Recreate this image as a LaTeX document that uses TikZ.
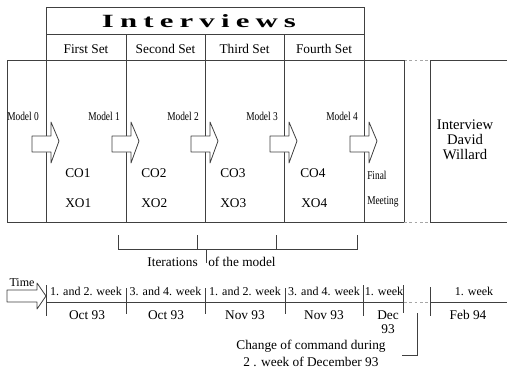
\documentclass[tikz,border=0pt]{standalone}
\usepackage{fontspec}
\setmainfont{Liberation Serif}
\begin{document}
\begin{tikzpicture}[x=0.75pt,y=-0.75pt,
  ln/.style={draw=black!75,line width=0.6pt},
  dotl/.style={draw=black!35,line width=0.6pt,dash pattern=on 2pt off 2pt},
  txt/.style={inner sep=0pt,font=\fontsize{10}{12}\selectfont},
  wk/.style={inner sep=0pt,font=\fontsize{9}{11}\selectfont},
  mdl/.style={inner sep=0pt,font=\fontsize{9}{10}\selectfont},
  barrow/.style={draw=black!75,fill=white,line width=0.6pt,line join=round}]
\useasboundingbox (0,0) rectangle (507,372);

% Interviews frame
\draw[ln] (46,222) -- (46,7) -- (364,7) -- (364,222);
\draw[ln] (46,34) -- (364,34);
\foreach \x in {126,205,284} \draw[ln] (\x,34) -- (\x,222);
% main row
\draw[ln] (7,60) -- (404,60);
\draw[dotl] (404,60) -- (430,60);
\draw[ln] (430,60) -- (507,60);
\draw[ln] (7,222) -- (404,222);
\draw[dotl] (404,222) -- (430,222);
\draw[ln] (430,222) -- (507,222);
\draw[ln] (7,60) -- (7,222);
\draw[ln] (404,60) -- (404,222);
\draw[ln] (430,60) -- (430,222);

% block arrows
\foreach \b in {46,126,205,284,364}
  \draw[barrow] (\b-14,136) -- (\b+5,136) -- (\b+5,122) -- (\b+13,141)
     -- (\b+5,163) -- (\b+5,152) -- (\b-14,152) -- cycle;

% title and set labels
\node[inner sep=0pt,font=\fontsize{14}{14}\bfseries\addfontfeature{LetterSpace=20}] (title) at (199,21) {\scalebox{1.65}[1]{Interviews}};
\node[txt] (s1) at (86,49) {First Set};
\node[txt] (s2) at (165.5,49) {Second Set};
\node[txt] (s3) at (244.5,49) {Third Set};
\node[txt] (s4) at (324,49) {Fourth Set};

% model labels
\node[mdl,anchor=east] (m0) at (39,116) {\scalebox{0.78}[1]{Model 0}};
\node[mdl,anchor=east] (m1) at (120,116) {\scalebox{0.78}[1]{Model 1}};
\node[mdl,anchor=east] (m2) at (199,116) {\scalebox{0.78}[1]{Model 2}};
\node[mdl,anchor=east] (m3) at (278,116) {\scalebox{0.78}[1]{Model 3}};
\node[mdl,anchor=east] (m4) at (358,116) {\scalebox{0.78}[1]{Model 4}};

% CO / XO
\node[txt,anchor=west] (co1) at (65,173) {CO1};
\node[txt,anchor=west] (xo1) at (65,203) {XO1};
\node[txt,anchor=west] (co2) at (141,173) {CO2};
\node[txt,anchor=west] (xo2) at (141,203) {XO2};
\node[txt,anchor=west] (co3) at (220,173) {CO3};
\node[txt,anchor=west] (xo3) at (220,203) {XO3};
\node[txt,anchor=west] (co4) at (300,173) {CO4};
\node[txt,anchor=west] (xo4) at (301,203) {XO4};

\node[mdl,anchor=west] (fin) at (367,175) {\scalebox{0.78}[1]{Final}};
\node[mdl,anchor=west] (meet) at (367,202) {\scalebox{0.78}[1]{Meeting}};

\node[inner sep=0pt,align=center,font=\fontsize{11}{11.3}\selectfont] (dw) at (465,140) {Interview\\David\\Willard};

% iterations bracket
\draw[ln] (118,235) -- (118,249) -- (357,249) -- (357,235);
\draw[ln] (197,235) -- (197,249);
\draw[ln] (276,235) -- (276,249);
\draw[ln] (206,249) -- (206,263);
\node[txt,anchor=east] (it1) at (198,262) {Iterations};
\node[txt,anchor=west] (it2) at (208,262) {of the model};

% timeline
\draw[barrow] (7,290) -- (37,290) -- (37,283) -- (46,296) -- (37,309) -- (37,302) -- (7,302) -- cycle;
\node[wk] (time) at (22,283) {Time};
\draw[ln] (46,302) -- (404,302);
\draw[dotl] (404,302) -- (430,302);
\draw[ln] (430,302) -- (507,302);
\draw[ln] (46,285) -- (46,316);
\draw[ln] (126,288) -- (126,314);
\draw[ln] (205,288) -- (205,314);
\draw[ln] (285,288) -- (285,314);
\draw[ln] (363,285) -- (363,316);
\draw[ln] (403,285) -- (403,313);
\draw[ln] (430,287) -- (430,316);

\node[wk] (w1) at (86,291) {1. and 2. week};
\node[wk] (w2) at (165.5,291) {3. and 4. week};
\node[wk] (w3) at (245,291) {1. and 2. week};
\node[wk] (w4) at (324,291) {3. and 4. week};
\node[wk] (w5) at (384,291) {1. week};
\node[wk] (w6) at (474,291) {1. week};

\node[txt] (d1) at (87,315) {Oct 93};
\node[txt] (d2) at (166,315) {Oct 93};
\node[txt] (d3) at (245,315) {Nov 93};
\node[txt] (d4) at (324,315) {Nov 93};
\node[txt] (d5) at (388,315) {Dec};
\node[txt] (d5b) at (388,329) {93};
\node[txt] (d6) at (468,315) {Feb 94};

% change of command
\draw[ln] (417,313) -- (417,355) -- (402,355);
\node[txt] (c1) at (311,346) {Change of command during};
\node[txt] (c2) at (311,362) {2 . week of December 93};
\end{tikzpicture}
\end{document}
